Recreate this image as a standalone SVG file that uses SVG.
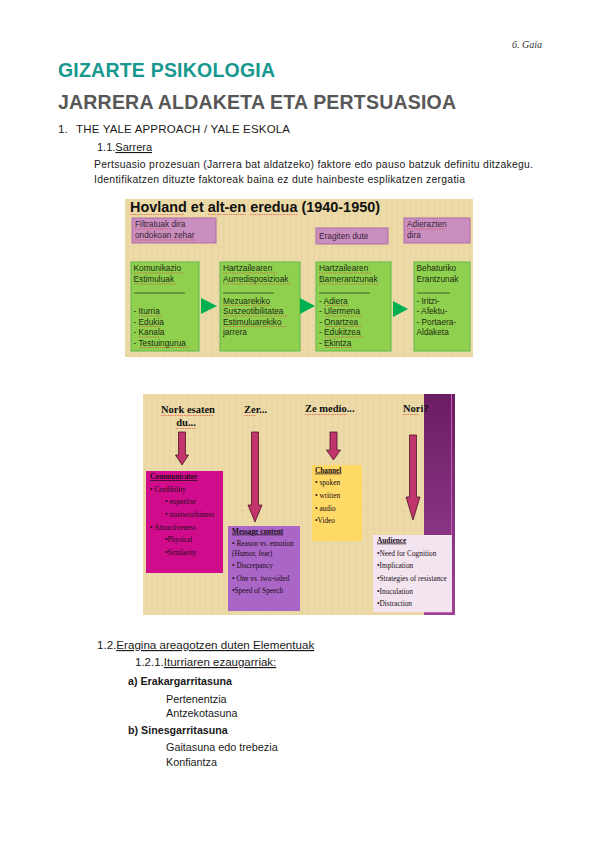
<svg xmlns="http://www.w3.org/2000/svg" width="599" height="848" viewBox="0 0 599 848">
<defs>
<style>
.pg{font-family:"Liberation Sans",Arial,sans-serif;fill:#1a1a1a}
.h1{font-family:"Liberation Sans",Arial,sans-serif;font-weight:bold;font-size:19.5px}
.gb{fill:#8fd14f;stroke:#5cb848;stroke-width:1}
.pb{fill:#c98fbe;stroke:#b26aa5;stroke-width:1}
.gt{font-family:"Liberation Sans",Arial,sans-serif;font-size:8.3px;fill:#1e2a12}
.pt{font-family:"Liberation Sans",Arial,sans-serif;font-size:8.3px;fill:#3a2336}
.st{font-family:"Liberation Serif","Times New Roman",serif;font-size:7.3px;fill:#1a0c14}
.sh{font-family:"Liberation Serif","Times New Roman",serif;font-size:7.3px;font-weight:bold;text-decoration:underline;fill:#1a0c14}
.hd{font-family:"Liberation Serif","Times New Roman",serif;font-size:10.5px;font-weight:bold;fill:#111}
.sq{stroke:#e0403a;stroke-width:0.8;stroke-dasharray:1.4 0.9;fill:none;opacity:0.8}
.ga{fill:#00b050}
.pa{fill:#c2346c;stroke:#4a1426;stroke-width:0.8}
.sep{stroke:#2a3318;stroke-width:0.7}
</style>
<pattern id="papy" width="6" height="6" patternUnits="userSpaceOnUse">
<rect width="6" height="6" fill="#ecd9a6"/>
<line x1="2" y1="0" x2="2" y2="6" stroke="#dcc58e" stroke-width="0.6" opacity="0.6"/>
<line x1="0" y1="4" x2="6" y2="4" stroke="#f3e4b8" stroke-width="0.6" opacity="0.6"/>
</pattern>
<linearGradient id="purp" x1="0" y1="0" x2="0" y2="1">
<stop offset="0" stop-color="#6a1c62"/>
<stop offset="1" stop-color="#9c4396"/>
</linearGradient>
</defs>
<rect width="599" height="848" fill="#fff"/>

<g id="page-text">
<text x="542" y="48" text-anchor="end" font-family="'Liberation Serif',serif" font-style="italic" font-size="10" fill="#333">6. Gaia</text>
<text x="58" y="77" class="h1" fill="#17988f" textLength="217">GIZARTE PSIKOLOGIA</text>
<text x="58" y="109" class="h1" fill="#575757" textLength="398">JARRERA ALDAKETA ETA PERTSUASIOA</text>
<text x="58" y="133" class="pg" font-size="11.5">1.</text>
<text x="76" y="133" class="pg" font-size="11.5" textLength="214">THE YALE APPROACH / YALE ESKOLA</text>
<text x="97" y="151" class="pg" font-size="11">1.1.<tspan text-decoration="underline">Sarrera</tspan></text>
<text x="94" y="168" class="pg" font-size="10.4" textLength="439">Pertsuasio prozesuan (Jarrera bat aldatzeko) faktore edo pauso batzuk definitu ditzakegu.</text>
<text x="94" y="183" class="pg" font-size="10.4" textLength="371">Identifikatzen dituzte faktoreak baina ez dute hainbeste esplikatzen zergatia</text>

<text x="97" y="649" class="pg" font-size="11.6">1.2.<tspan text-decoration="underline">Eragina areagotzen duten Elementuak</tspan></text>
<text x="135" y="666" class="pg" font-size="11.5">1.2.1.<tspan text-decoration="underline">Iturriaren ezaugarriak:</tspan></text>
<text x="128" y="685" class="pg" font-size="10.7" font-weight="bold">a) Erakargarritasuna</text>
<text x="166" y="703" class="pg" font-size="10.8">Pertenentzia</text>
<text x="166" y="717" class="pg" font-size="10.8">Antzekotasuna</text>
<text x="128" y="734" class="pg" font-size="10.7" font-weight="bold">b) Sinesgarritasuna</text>
<text x="166" y="751" class="pg" font-size="10.8">Gaitasuna edo trebezia</text>
<text x="166" y="766" class="pg" font-size="10.8">Konfiantza</text>
</g>

<!-- Figure 1: Hovland -->
<g id="fig1">
<rect x="125" y="199" width="348" height="158" fill="url(#papy)"/>
<text x="130" y="212" font-family="'Liberation Sans',Arial,sans-serif" font-weight="bold" font-size="14.4" fill="#111" textLength="250">Hovland et alt-en eredua (1940-1950)</text>
</g>
<g id="filter-box">
<rect x="132" y="218" width="84" height="25" class="pb"/>
<text x="135" y="227" class="pt">Filtratuak dira</text>
<text x="135" y="238" class="pt">ondokoan zehar</text>
</g>
<g id="eragiten-box">
<rect x="316" y="228" width="72" height="16" class="pb"/>
<text x="319" y="238.5" class="pt">Eragiten dute</text>
</g>
<g id="adierazten-box">
<rect x="404" y="218" width="66" height="25" class="pb"/>
<text x="407" y="227" class="pt">Adierazten</text>
<text x="407" y="238" class="pt">dira</text>
</g>
<g id="komunikazio-box">
<rect x="131" y="262" width="68" height="89" class="gb"/>
<text x="133.5" y="271" class="gt">Komunikazio</text>
<text x="133.5" y="282" class="gt">Estimuluak</text>
<line x1="134" y1="293" x2="185" y2="293" class="sep"/>
<text x="133.5" y="314" class="gt">- Iturria</text>
<text x="133.5" y="324.5" class="gt">- Edukia</text>
<text x="133.5" y="335" class="gt">- Kanala</text>
<text x="133.5" y="345.5" class="gt">- Testuingurua</text>
</g>
<g id="aurredisposizio-box">
<rect x="220" y="262" width="80" height="89" class="gb"/>
<text x="223" y="271" class="gt">Hartzailearen</text>
<text x="223" y="282" class="gt">Aurredisposizioak</text>
<line x1="223" y1="293" x2="274" y2="293" class="sep"/>
<text x="223" y="303.5" class="gt">Mezuarekiko</text>
<text x="223" y="314" class="gt">Suszeotibilitatea</text>
<text x="223" y="324.5" class="gt">Estimuluarekiko</text>
<text x="223" y="335" class="gt">jarrera</text>
</g>
<g id="barnerantzun-box">
<rect x="316" y="262" width="75" height="89" class="gb"/>
<text x="319" y="271" class="gt">Hartzailearen</text>
<text x="319" y="282" class="gt">Barnerantzunak</text>
<line x1="319" y1="293" x2="370" y2="293" class="sep"/>
<text x="319" y="303.5" class="gt">- Adiera</text>
<text x="319" y="314" class="gt">- Ulermena</text>
<text x="319" y="324.5" class="gt">- Onartzea</text>
<text x="319" y="335" class="gt">- Edukitzea</text>
<text x="319" y="345.5" class="gt">- Ekintza</text>
</g>
<g id="erantzun-box">
<rect x="414" y="262" width="56" height="89" class="gb"/>
<text x="416.5" y="271" class="gt">Behaturiko</text>
<text x="416.5" y="282" class="gt">Erantzunak</text>
<line x1="417" y1="293" x2="450" y2="293" class="sep"/>
<text x="416.5" y="303.5" class="gt">- Iritzi-</text>
<text x="416.5" y="314" class="gt">- Afektu-</text>
<text x="416.5" y="324.5" class="gt">- Portaera-</text>
<text x="416.5" y="335" class="gt">Aldaketa</text>
</g>

<!-- Figure 2 -->
<g id="fig2">
<rect x="143" y="394" width="312" height="221" fill="url(#papy)"/>
<rect x="424" y="394" width="31" height="221" fill="url(#purp)"/>
<path d="M451.5,394V612.5H424" fill="none" stroke="#c25cb6" stroke-width="1"/>
<text x="161" y="413" class="hd">Nork esaten</text>
<text x="186" y="426" class="hd" text-anchor="middle">du...</text>
<text x="244" y="413" class="hd">Zer...</text>
<text x="305" y="412" class="hd">Ze medio...</text>
<text x="403" y="412" class="hd">Nori?</text>
</g>
<g id="communicator-box">
<rect x="146" y="471" width="77" height="102" fill="#d00c8c"/>
<text x="150" y="479" class="sh">Communicator</text>
<text x="150" y="491.5" class="st">• Credibility</text>
<text x="165" y="504" class="st">• expertise</text>
<text x="165" y="516.5" class="st">• trustworthiness</text>
<text x="150" y="529.5" class="st">• Attractiveness</text>
<text x="165" y="542" class="st">•Physical</text>
<text x="165" y="554.5" class="st">•Similarity</text>
</g>
<g id="message-box">
<rect x="228" y="526" width="72" height="85" fill="#a966c6"/>
<text x="232" y="533.5" class="sh">Message content</text>
<text x="232" y="546" class="st">• Reason vs. emotion</text>
<text x="232" y="555.5" class="st">(Humor, fear)</text>
<text x="232" y="568" class="st">• Discrepancy</text>
<text x="232" y="580.5" class="st">• One vs. two-sided</text>
<text x="232" y="593" class="st">•Speed of Speech</text>
</g>
<g id="channel-box">
<rect x="312" y="465" width="50" height="76" fill="#ffd966"/>
<text x="315" y="472.5" class="sh">Channel</text>
<text x="315" y="485" class="st">• spoken</text>
<text x="315" y="497.5" class="st">• written</text>
<text x="315" y="510.5" class="st">• audio</text>
<text x="315" y="523" class="st">•Video</text>
</g>
<g id="audience-box">
<rect x="373" y="535" width="79" height="77" fill="#f3e5f0"/>
<text x="377" y="542.5" class="sh">Audience</text>
<text x="377" y="555.5" class="st">•Need for Cognition</text>
<text x="377" y="568" class="st">•Implication</text>
<text x="377" y="580.5" class="st">•Strategies of resistance</text>
<text x="377" y="593.5" class="st">•Inoculation</text>
<text x="377" y="606" class="st">•Distraction</text>
</g>

<g id="connectors">
<polygon class="ga" points="201,298 201,314 217,306"/>
<polygon class="ga" points="300,298 300,314 315,306"/>
<polygon class="ga" points="393,301 393,317 408,309"/>
<polygon class="pa" points="178.5,432 185.5,432 185.5,455 188.5,455 182,465 175.5,455 178.5,455"/>
<polygon class="pa" points="251.5,432 258.5,432 258.5,505 262,505 255,522 248,505 251.5,505"/>
<polygon class="pa" points="330,432 337,432 337,450 340.5,450 333.5,460 326.5,450 330,450"/>
<polygon class="pa" points="409.5,435 416.5,435 416.5,497 420,497 413,520 406,497 409.5,497"/>
</g>

<g id="spellcheck">
<path class="sq" d="M130,214.5H184 M208,214.5H246 M250,214.5H298 M135,229H172 M135,240H196 M407,229H445 M134,273H183 M134,284H176 M139,316H162 M139,326.5H160 M139,337H160 M139,347.5H190 M223,273H277 M223,284H291 M223,305.5H271 M223,316H288 M223,326.5H286 M319,273H372 M319,284H379 M325,305.5H349 M325,316H362 M325,326.5H361 M325,337H363 M325,347.5H353 M161,415.5H214 M176,428.5H196 M244,415.5H256 M305,414.5H347 M403,414.5H418"/>
</g>
</svg>
